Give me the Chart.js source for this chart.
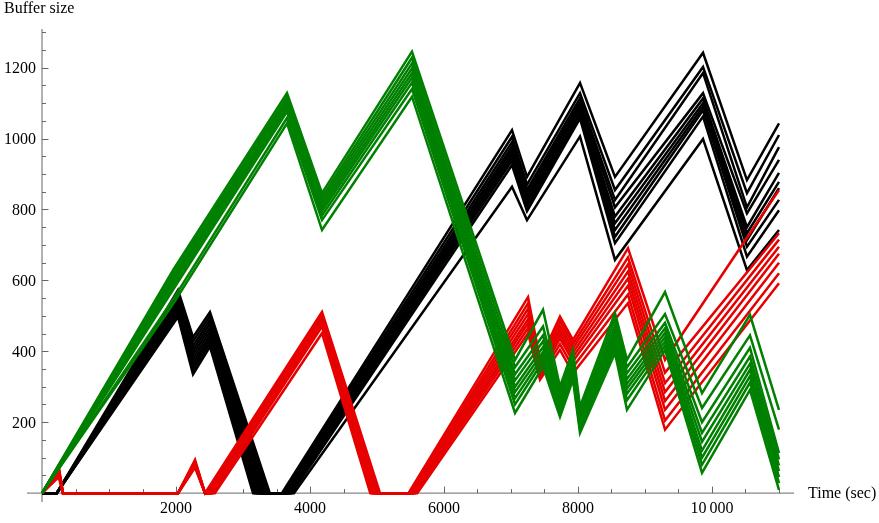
<!DOCTYPE html>
<html>
<head>
<meta charset="utf-8">
<script src="https://cdn.jsdelivr.net/npm/chart.js@4/dist/chart.umd.min.js"></script>
<style>
  html, body { margin: 0; padding: 0; background: #fff; }
  canvas { display: block; }
</style>
</head>
<body>
<canvas id="buffer" width="879" height="523"></canvas>
<script>
// breakpoints (sec) shared by the runs of each colour.
// a string is a per-run time, looked up in the array of the same name below
const greenTimes = [0, 1960, 3657, 4179, 5522, 7060, 7478, 7731, 7925, 8030, 8552, 8731, 9299, 9851, 10567, 11000]
const blackTimes = [0, 220, 2030, 2254, 2507, 'blackDrain', 'blackRise', 7015, 7239, 8030, 8552, 9866, 10522, 11000]
const redTimes = [0, 250, 313, 2030, 2284, 2433, 'redRise1', 4179, 'redDrain', 'redRise2', 7254, 7433, 7731, 7925, 8746, 9299, 11000]

// green runs
const g1 = [0, 630, 1128, 846, 1245, 376, 517, 300, 404, 244, 508, 376, 567, 282, 503, 235]
const g2 = [0, 620, 1118, 835, 1228, 355, 470, 285, 390, 232, 490, 355, 505, 240, 445, 179]
const g3 = [0, 611, 1110, 825, 1212, 335, 445, 272, 378, 222, 472, 338, 480, 200, 410, 113]
const g4 = [0, 602, 1102, 815, 1198, 318, 428, 262, 368, 212, 458, 322, 465, 170, 385, 95]
const g5 = [0, 593, 1094, 805, 1185, 300, 412, 252, 358, 204, 446, 308, 452, 145, 365, 78]
const g6 = [0, 584, 1086, 795, 1172, 285, 398, 243, 348, 196, 434, 295, 440, 120, 348, 62]
const g7 = [0, 575, 1076, 783, 1158, 268, 385, 234, 338, 188, 422, 280, 428, 100, 330, 45]
const g8 = [0, 548, 1058, 770, 1140, 250, 372, 225, 328, 180, 410, 262, 416, 80, 312, 28]
const g9 = [0, 535, 1043, 742, 1118, 226, 357, 215, 320, 170, 395, 235, 404, 57, 291, 9]

// black runs
const b1 = [0, 0, 573, 440, 511, 0, 0, 1024, 892, 1157, 892, 1242, 883, 1043]
const b2 = [0, 0, 562, 428, 500, 0, 0, 1005, 870, 1128, 855, 1202, 846, 1010]
const b3 = [0, 0, 552, 415, 489, 0, 0, 990, 855, 1114, 827, 1185, 806, 976]
const b4 = [0, 0, 543, 403, 478, 0, 0, 978, 845, 1103, 806, 1128, 789, 940]
const b5 = [0, 0, 535, 392, 467, 0, 0, 968, 835, 1094, 780, 1113, 750, 903]
const b6 = [0, 0, 527, 380, 456, 0, 0, 958, 825, 1085, 761, 1100, 733, 878]
const b7 = [0, 0, 520, 368, 445, 0, 0, 948, 815, 1074, 742, 1090, 714, 860]
const b8 = [0, 0, 512, 357, 435, 0, 0, 938, 805, 1066, 723, 1080, 695, 827]
const b9 = [0, 0, 505, 346, 424, 0, 0, 925, 795, 1057, 705, 1062, 667, 798]
const b10 = [0, 0, 497, 335, 413, 0, 0, 864, 770, 1006, 658, 999, 629, 742]
const blackDrain = [3400, 3370, 3345, 3320, 3295, 3270, 3240, 3210, 3180, 3150]
const blackRise = [3580, 3600, 3620, 3640, 3655, 3670, 3690, 3710, 3730, 3760]

// red runs
const r1 = [0, 75, 0, 0, 94, 0, 0, 511, 0, 0, 553, 376, 498, 432, 691, 376, 855]
const r2 = [0, 70, 0, 0, 90, 0, 0, 505, 0, 0, 535, 368, 485, 420, 665, 340, 733]
const r3 = [0, 66, 0, 0, 87, 0, 0, 500, 0, 0, 520, 360, 472, 408, 645, 310, 715]
const r4 = [0, 62, 0, 0, 84, 0, 0, 494, 0, 0, 505, 352, 460, 396, 625, 285, 695]
const r5 = [0, 58, 0, 0, 81, 0, 0, 488, 0, 0, 490, 344, 448, 384, 605, 260, 675]
const r6 = [0, 54, 0, 0, 78, 0, 0, 480, 0, 0, 478, 336, 436, 372, 585, 235, 650]
const r7 = [0, 50, 0, 0, 75, 0, 0, 470, 0, 0, 465, 328, 420, 356, 560, 205, 620]
const r8 = [0, 45, 0, 0, 72, 0, 0, 451, 0, 0, 451, 320, 404, 338, 536, 179, 592]
const redRise1 = [2440, 2460, 2480, 2500, 2515, 2530, 2550, 2580]
const redDrain = [5045, 5025, 5005, 4985, 4965, 4945, 4925, 4900]
const redRise2 = [5470, 5490, 5505, 5520, 5535, 5550, 5570, 5600]

const runTimes = {blackDrain, blackRise, redRise1, redDrain, redRise2}

const xTicks = [2000, 4000, 6000, 8000, 10000]
const xTickLabels = ['2000', '4000', '6000', '8000', '10\u2009000']
const yTicks = [200, 400, 600, 800, 1000, 1200]
const yTickLabels = ['200', '400', '600', '800', '1000', '1200']

const GREEN = '#008000'
const BLACK = '#000000'
const RED = '#e60000'
const FONT = '16px "Liberation Serif", "Times New Roman", serif'

function points(times, values, run) {
    return times.map((t, i) => ({x: typeof t === 'string' ? runTimes[t][run] : t, y: values[i]}))
}

const datasets = []
let order = 1000
function addRun(pts, color) {
    // earlier runs get a higher order so they are painted first
    datasets.push({data: pts, borderColor: color, borderWidth: 2.5, borderJoinStyle: 'miter', order: order--})
}

;[b1, b2, b3, b4, b5, b6, b7, b8, b9, b10].forEach((v, i) => addRun(points(blackTimes, v, i), BLACK))
;[r1, r2, r3, r4, r5, r6, r7, r8].forEach((v, i) => addRun(points(redTimes, v, i), RED))
;[g1, g2, g3, g4, g5, g6, g7, g8, g9].forEach((v, i) => addRun(points(greenTimes, v, i), GREEN))

const axes = {
    id: 'axes',
    beforeDatasetsDraw(chart) {
        const {ctx, chartArea: a} = chart
        const x = chart.scales.x, y = chart.scales.y
        const x0 = x.getPixelForValue(0), y0 = y.getPixelForValue(0)
        ctx.save()
        ctx.strokeStyle = '#888888'
        ctx.lineWidth = 1.3
        ctx.beginPath()
        ctx.moveTo(a.left, y0); ctx.lineTo(a.right, y0)
        ctx.moveTo(x0, a.top); ctx.lineTo(x0, a.bottom)
        ctx.stroke()
        ctx.strokeStyle = '#666666'
        ctx.lineWidth = 1
        ctx.beginPath()
        for (let v = 500; v <= 11000; v += 500) {
            const px = Math.round(x.getPixelForValue(v)) + 0.5
            const len = v % 2000 === 0 ? 6.5 : 4
            ctx.moveTo(px, y0); ctx.lineTo(px, y0 - len)
        }
        for (let v = 50; v <= 1300; v += 50) {
            const py = Math.round(y.getPixelForValue(v)) + 0.5
            const len = v % 200 === 0 ? 6.5 : 4
            ctx.moveTo(x0, py); ctx.lineTo(x0 + len, py)
        }
        ctx.stroke()
        ctx.restore()
    },
    afterDraw(chart) {
        const {ctx} = chart
        const x = chart.scales.x, y = chart.scales.y
        const x0 = x.getPixelForValue(0), y0 = y.getPixelForValue(0)
        ctx.save()
        ctx.fillStyle = '#000'
        ctx.font = FONT
        ctx.textBaseline = 'alphabetic'
        ctx.textAlign = 'center'
        xTicks.forEach((v, i) => ctx.fillText(xTickLabels[i], x.getPixelForValue(v), y0 + 20))
        ctx.textAlign = 'right'
        yTicks.forEach((v, i) => ctx.fillText(yTickLabels[i], x0 - 6, y.getPixelForValue(v) + 5.5))
        ctx.textAlign = 'left'
        ctx.fillText('Buffer size', 4, 13)
        ctx.fillText('Time (sec)', 808, y0 + 4.5)
        ctx.restore()
    }
}

new Chart(document.getElementById('buffer').getContext('2d'), {
    type: 'line',
    data: {datasets: datasets},
    options: {
        responsive: false,
        animation: false,
        devicePixelRatio: 1,
        layout: {padding: {left: 27, right: 85, top: 29, bottom: 21}},
        elements: {point: {radius: 0}, line: {tension: 0, fill: false}},
        plugins: {legend: {display: false}, tooltip: {enabled: false}},
        scales: {
            x: {type: 'linear', min: -224, max: 11224, display: false},
            y: {type: 'linear', min: -25, max: 1309, display: false}
        }
    },
    plugins: [axes]
})
</script>
</body>
</html>
